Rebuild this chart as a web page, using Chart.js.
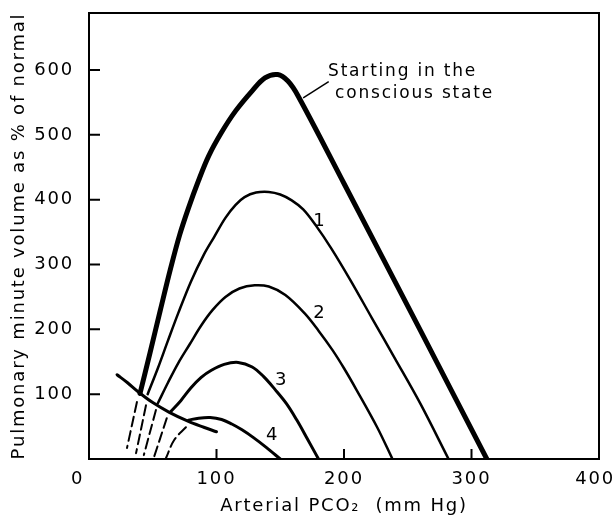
<!DOCTYPE html>
<html>
<head>
<meta charset="utf-8">
<script src="https://cdn.jsdelivr.net/npm/chart.js@4.4.0/dist/chart.umd.min.js"></script>
<style>
  html, body { margin: 0; padding: 0; background: #fff; }
  #wrap { width: 615px; height: 517px; }
</style>
</head>
<body>
<div id="wrap"><canvas id="chart"></canvas></div>
<script>
// tick values
const xTicks = [0, 100, 200, 300, 400];
const yTicks = [100, 200, 300, 400, 500, 600];

// "Starting in the conscious state" (thick)
const consciousX = [40, 48, 56, 64, 71, 78, 86, 94, 104, 115, 128, 138, 148, 156, 164, 200, 260, 312];
const consciousY = [101, 165, 230, 294, 345, 387, 430, 468, 504, 537, 568, 588, 593, 583, 560, 425, 198, 0];

// curves 1..4
const curve1X = [46, 54, 62, 70, 80, 90, 98, 107, 115, 122, 131, 141, 150, 159, 168, 178, 190, 205, 222, 240, 260, 282];
const curve1Y = [100, 140, 183, 225, 274, 315, 342, 372, 392, 404, 411, 412, 408, 399, 385, 360, 325, 276, 217, 155, 85, 0];
const curve2X = [54, 62, 70, 79, 88, 97, 107, 118, 130, 141, 154, 169, 180, 191, 200, 210, 226, 238];
const curve2Y = [86, 118, 148, 177, 206, 230, 250, 263, 268, 266, 253, 225, 198, 168, 140, 106, 49, 0];
const curve3X = [64, 72, 80, 88, 96, 106, 117, 128, 137, 146, 155, 163, 171, 180];
const curve3Y = [73, 90, 110, 126, 137, 146, 149, 142, 127, 107, 85, 60, 32, 0];
const curve4X = [78, 86, 95, 104, 112, 120, 129, 139, 150];
const curve4Y = [60, 63, 64, 61, 54, 45, 33, 18, 0];

// descending boundary line
const boundaryX = [22, 30, 39, 50, 63, 78, 90, 100];
const boundaryY = [130, 118, 103, 87, 72, 58, 49, 42];

// dashed continuations below the boundary
const dash0X = [37.6, 29.8];
const dash0Y = [88, 17];
const dash1X = [44.7, 36.9];
const dash1Y = [83, 9];
const dash2X = [52.5, 43];
const dash2Y = [75.6, 6];
const dash3X = [61, 51];
const dash3Y = [63, 3];
const dash4X = [76, 66.7, 60.4];
const dash4Y = [49, 29, 1.5];

const curveNames = ['1', '2', '3', '4'];
const noteLines = ['Starting in the', 'conscious state'];

const FONT = 'DejaVu Sans';
Chart.defaults.font.family = FONT;
Chart.defaults.color = '#000';

function toPoints(xs, ys) {
  return xs.map((x, i) => ({ x: x, y: ys[i] }));
}

function line(xs, ys, width, dash) {
  return {
    data: toPoints(xs, ys),
    borderColor: '#000',
    borderWidth: width,
    borderDash: dash || [],
    pointRadius: 0,
    fill: false,
    tension: 0.35,
    borderCapStyle: 'round'
  };
}

const spacing = {
  id: 'spacing',
  beforeUpdate(chart) { chart.ctx.letterSpacing = '1.8px'; },
  beforeDraw(chart) { chart.ctx.letterSpacing = '1.8px'; }
};

// box, inward ticks and text notes
const frame = {
  id: 'frame',
  afterDatasetsDraw(chart) {
    const { ctx, chartArea: a, scales: { x, y } } = chart;
    ctx.save();
    ctx.strokeStyle = '#000';
    ctx.lineWidth = 2;
    ctx.strokeRect(a.left, a.top, a.right - a.left, a.bottom - a.top);
    ctx.beginPath();
    yTicks.forEach(v => {
      const py = y.getPixelForValue(v);
      ctx.moveTo(a.left, py);
      ctx.lineTo(a.left + 11, py);
    });
    xTicks.slice(1, -1).forEach(v => {
      const px = x.getPixelForValue(v);
      ctx.moveTo(px, a.bottom);
      ctx.lineTo(px, a.bottom - 10);
    });
    ctx.stroke();

    // leader for the note
    ctx.lineWidth = 1.5;
    ctx.beginPath();
    ctx.moveTo(x.getPixelForValue(168), y.getPixelForValue(557));
    ctx.lineTo(x.getPixelForValue(188), y.getPixelForValue(582));
    ctx.stroke();

    ctx.fillStyle = '#000';
    ctx.textBaseline = 'middle';
    ctx.textAlign = 'left';
    ctx.font = '17px "' + FONT + '"';
    ctx.fillText(noteLines[0], x.getPixelForValue(187.5), y.getPixelForValue(598));
    ctx.fillText(noteLines[1], x.getPixelForValue(193), y.getPixelForValue(563));

    const namePos = [[181, 366], [181, 225], [151, 122], [144, 37]];
    ctx.textAlign = 'center';
    ctx.font = '18px "' + FONT + '"';
    curveNames.forEach((n, i) => {
      ctx.fillText(n, x.getPixelForValue(namePos[i][0]), y.getPixelForValue(namePos[i][1]));
    });
    ctx.restore();
  }
};

new Chart(document.getElementById('chart'), {
  type: 'line',
  data: {
    datasets: [
      line(consciousX, consciousY, 5),
      line(curve1X, curve1Y, 2.5),
      line(curve2X, curve2Y, 2.5),
      line(curve3X, curve3Y, 3),
      line(curve4X, curve4Y, 3),
      line(boundaryX, boundaryY, 3),
      line(dash0X, dash0Y, 2, [10, 5]),
      line(dash1X, dash1Y, 2, [10, 5]),
      line(dash2X, dash2Y, 2, [10, 5]),
      line(dash3X, dash3Y, 2, [10, 5]),
      line(dash4X, dash4Y, 2, [10, 5])
    ]
  },
  options: {
    responsive: true,
    maintainAspectRatio: false,
    animation: false,
    layout: { autoPadding: false, padding: { top: 13, right: 16, left: 0, bottom: 0 } },
    plugins: { legend: { display: false }, tooltip: { enabled: false } },
    scales: {
      x: {
        type: 'linear',
        min: 0,
        max: 400,
        grid: { display: false },
        border: { display: false },
        ticks: {
          stepSize: 100,
          padding: 2,
          font: { size: 18 },
          color: '#000',
          // end labels sit a little to the left in the original
          callback: v => (v === 0 ? '0   ' : v === 400 ? '400 ' : String(v))
        },
        title: {
          display: true,
          text: 'Arterial PCO\u2082  (mm Hg)',
          font: { size: 18 },
          color: '#000',
          padding: { top: 0, bottom: 0 }
        },
        afterFit(s) {
          s.height = 58;
          s.paddingLeft = 0;
          s.paddingRight = 0;
        }
      },
      y: {
        type: 'linear',
        min: 0,
        max: 688,
        grid: { display: false },
        border: { display: false },
        ticks: {
          stepSize: 100,
          padding: 7,
          font: { size: 18 },
          color: '#000',
          callback: v => (v > 0 && v <= 600 ? v : '')
        },
        title: {
          display: true,
          text: 'Pulmonary minute volume as % of normal',
          font: { size: 18 },
          color: '#000',
          padding: { top: 9, bottom: 0 }
        },
        afterFit(s) {
          s.width = 89;
          s.paddingTop = 0;
          s.paddingBottom = 0;
        }
      }
    }
  },
  plugins: [spacing, frame]
});
</script>
</body>
</html>
